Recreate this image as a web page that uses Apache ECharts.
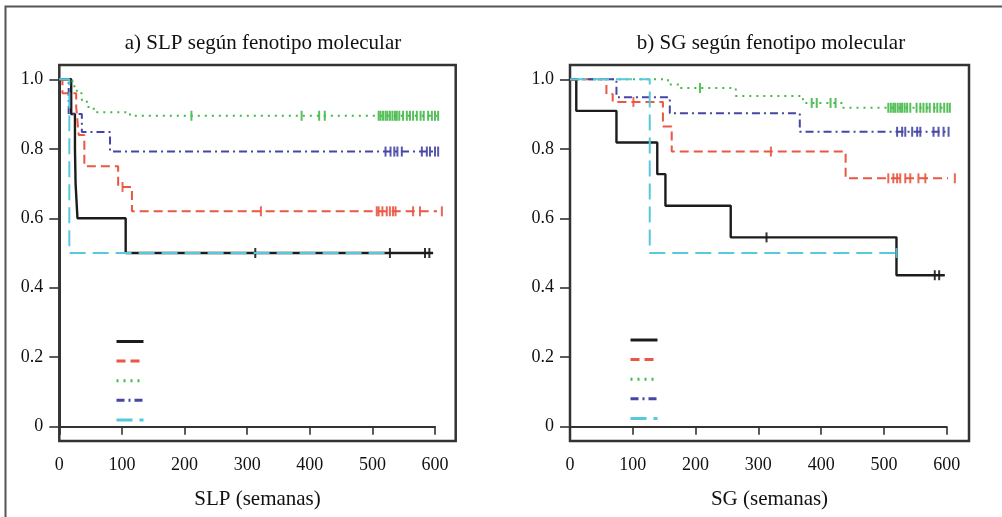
<!DOCTYPE html>
<html>
<head>
<meta charset="utf-8">
<script src="https://cdn.jsdelivr.net/npm/echarts@6/dist/echarts.min.js"></script>
<style>html,body{margin:0;padding:0;background:#fff}#c{width:1002px;height:517px}</style>
</head>
<body>
<div id="c"></div>
<script>
// ---------- texts ----------
const panelTitles = ['a) SLP según fenotipo molecular', 'b) SG según fenotipo molecular'];
const axisTitles = ['SLP (semanas)', 'SG (semanas)'];
const groupNames = ['Luminal A', 'Luminal B', 'HER2', 'Basal', 'No clasificable'];
const yTickLabels = ['0', '0.2', '0.4', '0.6', '0.8', '1.0'];
const xTickLabels = ['0', '100', '200', '300', '400', '500', '600'];

// ---------- SLP (panel a): [semanas, supervivencia tras el evento] ----------
const slpBlack = [[0,1],[19,0.9],[25,0.8],[26,0.7],[29,0.6],[106,0.5],[597,0.5]];
const slpRed   = [[0,1],[5,0.96],[27,0.92],[29,0.88],[31,0.84],[40,0.75],[94,0.69],[116,0.62],[619,0.62]];
const slpGreen = [[0,1],[21,0.98],[28,0.96],[36,0.94],[44,0.92],[55,0.905],[113,0.895],[613,0.895]];
const slpBlue  = [[0,1],[15,0.9],[36,0.848],[81,0.792],[608,0.792]];
const slpCyan  = [[0,1],[16,0.5],[523,0.5]];
// censored observations
const slpBlackCens = [[313,0.5],[528,0.5],[584,0.5],[591,0.5]];
const slpRedCens   = [[101,0.69],[322,0.62],[507,0.62],[510,0.62],[516,0.62],[523,0.62],[528,0.62],[533,0.62],[537,0.62],[565,0.62],[576,0.62],[611,0.62]];
const slpGreenCens = [[211,0.895],[387,0.895],[415,0.895],[424,0.895],[510,0.895],[513,0.895],[517,0.895],[521,0.895],[524,0.895],[528,0.895],[532,0.895],[536,0.895],[539,0.895],[543,0.895],[549,0.895],[555,0.895],[560,0.895],[565,0.895],[571,0.895],[577,0.895],[582,0.895],[589,0.895],[595,0.895],[600,0.895],[605,0.895]];
const slpBlueCens  = [[521,0.792],[529,0.792],[535,0.792],[540,0.792],[547,0.792],[579,0.792],[587,0.792],[592,0.792],[600,0.792],[605,0.792]];
const slpCyanCens  = [];

// ---------- SG (panel b) ----------
const sgBlack = [[0,1],[10,0.909],[74,0.818],[139,0.727],[152,0.636],[256,0.545],[520,0.436],[597,0.436]];
const sgRed   = [[0,1],[58,0.958],[68,0.935],[148,0.864],[162,0.792],[439,0.715],[615,0.715]];
const sgGreen = [[0,1],[156,0.985],[175,0.975],[264,0.952],[371,0.932],[435,0.918],[610,0.918]];
const sgBlue  = [[0,1],[74,0.948],[159,0.902],[366,0.849],[608,0.849]];
const sgCyan  = [[0,1],[127,0.5],[520,0.5]];
const sgBlackCens = [[313,0.545],[581,0.436],[588,0.436]];
const sgRedCens   = [[101,0.935],[320,0.792],[507,0.715],[515,0.715],[521,0.715],[526,0.715],[534,0.715],[542,0.715],[555,0.715],[566,0.715],[613,0.715]];
const sgGreenCens = [[207,0.975],[385,0.932],[393,0.932],[415,0.932],[423,0.932],[507,0.918],[511,0.918],[515,0.918],[518,0.918],[522,0.918],[526,0.918],[529,0.918],[533,0.918],[537,0.918],[542,0.918],[552,0.918],[558,0.918],[563,0.918],[568,0.918],[573,0.918],[580,0.918],[585,0.918],[590,0.918],[596,0.918],[601,0.918],[605,0.918]];
const sgBlueCens  = [[521,0.849],[529,0.849],[534,0.849],[545,0.849],[553,0.849],[558,0.849],[579,0.849],[587,0.849],[595,0.849],[603,0.849]];
const sgCyanCens  = [[520,0.5]];

// ---------- styles ----------
const FONT = 'Liberation Serif';
const colors = ['#1c1c1c', '#ea5742', '#45b94a', '#4646a6', '#58c8dc'];
const dashes = ['solid', [9,5], [2,5], [8,4,2,4], [16,7]];
const widths = [2.4, 2, 2, 2, 2];

const panels = [
  { curves: [slpBlack, slpRed, slpGreen, slpBlue, slpCyan],
    cens: [slpBlackCens, slpRedCens, slpGreenCens, slpBlueCens, slpCyanCens],
    frame: {left: 59.3, top: 65, width: 396.4, height: 376},
    data:  {left: 59.3, top: 79.3, width: 375.7, height: 347.4},
    titleX: 258, legendLeft: 115, legendTop: 334.5 },
  { curves: [sgBlack, sgRed, sgGreen, sgBlue, sgCyan],
    cens: [sgBlackCens, sgRedCens, sgGreenCens, sgBlueCens, sgCyanCens],
    frame: {left: 570, top: 65, width: 399, height: 376},
    data:  {left: 570, top: 79.3, width: 376.7, height: 347.4},
    titleX: 766, legendLeft: 629, legendTop: 333 }
];

const grid = [], xAxis = [], yAxis = [], series = [], title = [], legend = [];
panels.forEach((p, pi) => {
  const gFrame = grid.length;
  grid.push(Object.assign({show: true, borderColor: '#333', borderWidth: 2.5, backgroundColor: 'transparent', outerBoundsMode: 'none'}, p.frame));
  const gData = grid.length;
  grid.push(Object.assign({outerBoundsMode: 'none'}, p.data));
  // frame axes (axis title only)
  xAxis.push({gridIndex: gFrame, type: 'value', min: 0, max: 1,
    axisLine: {show: false}, axisTick: {show: false}, axisLabel: {show: false}, splitLine: {show: false},
    name: axisTitles[pi], nameLocation: 'middle', nameGap: 48,
    nameTextStyle: {fontFamily: FONT, fontSize: 21, color: '#111'}});
  yAxis.push({gridIndex: gFrame, type: 'value', min: 0, max: 1, show: false});
  // data axes
  xAxis.push({gridIndex: gData, type: 'value', min: 0, max: 600, interval: 100, offset: 14.3,
    axisLine: {show: true, lineStyle: {color: '#333', width: 2}},
    axisTick: {show: true, length: 8, lineStyle: {color: '#333', width: 1.6}},
    axisLabel: {fontFamily: FONT, fontSize: 18, color: '#111', margin: 15,
      formatter: v => xTickLabels[Math.round(v / 100)]},
    splitLine: {show: false}});
  yAxis.push({gridIndex: gData, type: 'value', min: 0, max: 1, interval: 0.2,
    axisLine: {show: true, lineStyle: {color: '#333', width: 2}},
    axisTick: {show: true, length: 10, lineStyle: {color: '#333', width: 1.6}},
    axisLabel: {fontFamily: FONT, fontSize: 18, color: '#111', margin: 16,
      formatter: v => yTickLabels[Math.round(v * 5)]},
    splitLine: {show: false}});
  const xi = xAxis.length - 1, yi = yAxis.length - 1;
  p.curves.forEach((c, k) => {
    series.push({type: 'line', name: groupNames[k], xAxisIndex: xi, yAxisIndex: yi,
      data: c, step: 'end', symbol: 'none', clip: false, silent: true, animation: false,
      z: 2 + k,
      lineStyle: {color: colors[k], width: widths[k], type: dashes[k]},
      itemStyle: {color: colors[k]}});
  });
  p.cens.forEach((c, k) => {
    if (!c.length) return;
    series.push({type: 'scatter', name: 'cens' + pi + '_' + k, xAxisIndex: xi, yAxisIndex: yi,
      data: c, symbol: 'rect', symbolSize: [2, 10], clip: false, silent: true, animation: false,
      z: 2 + k, itemStyle: {color: colors[k], opacity: 0.9}});
  });
  title.push({text: panelTitles[pi], left: p.titleX, top: 28, textAlign: 'center',
    textStyle: {fontFamily: FONT, fontSize: 21, fontWeight: 'normal', color: '#111'}});
  legend.push({data: groupNames, orient: 'vertical', left: p.legendLeft, top: p.legendTop,
    padding: 0, itemWidth: 27, itemHeight: 14, itemGap: 7, selectedMode: false,
    formatter: () => '', textStyle: {fontSize: 1},
    lineStyle: {width: 3}, itemStyle: {opacity: 0, borderWidth: 0}});
});

const chart = echarts.init(document.getElementById('c'), null, {renderer: 'canvas'});
chart.setOption({
  animation: false,
  backgroundColor: '#fff',
  title, legend, grid, xAxis, yAxis, series,
  graphic: [{type: 'polyline', silent: true,
    shape: {points: [[5.5, 517], [5.5, 6.5], [1002, 6.5]]},
    style: {stroke: '#555', lineWidth: 2, fill: null}}]
});
</script>
</body>
</html>
